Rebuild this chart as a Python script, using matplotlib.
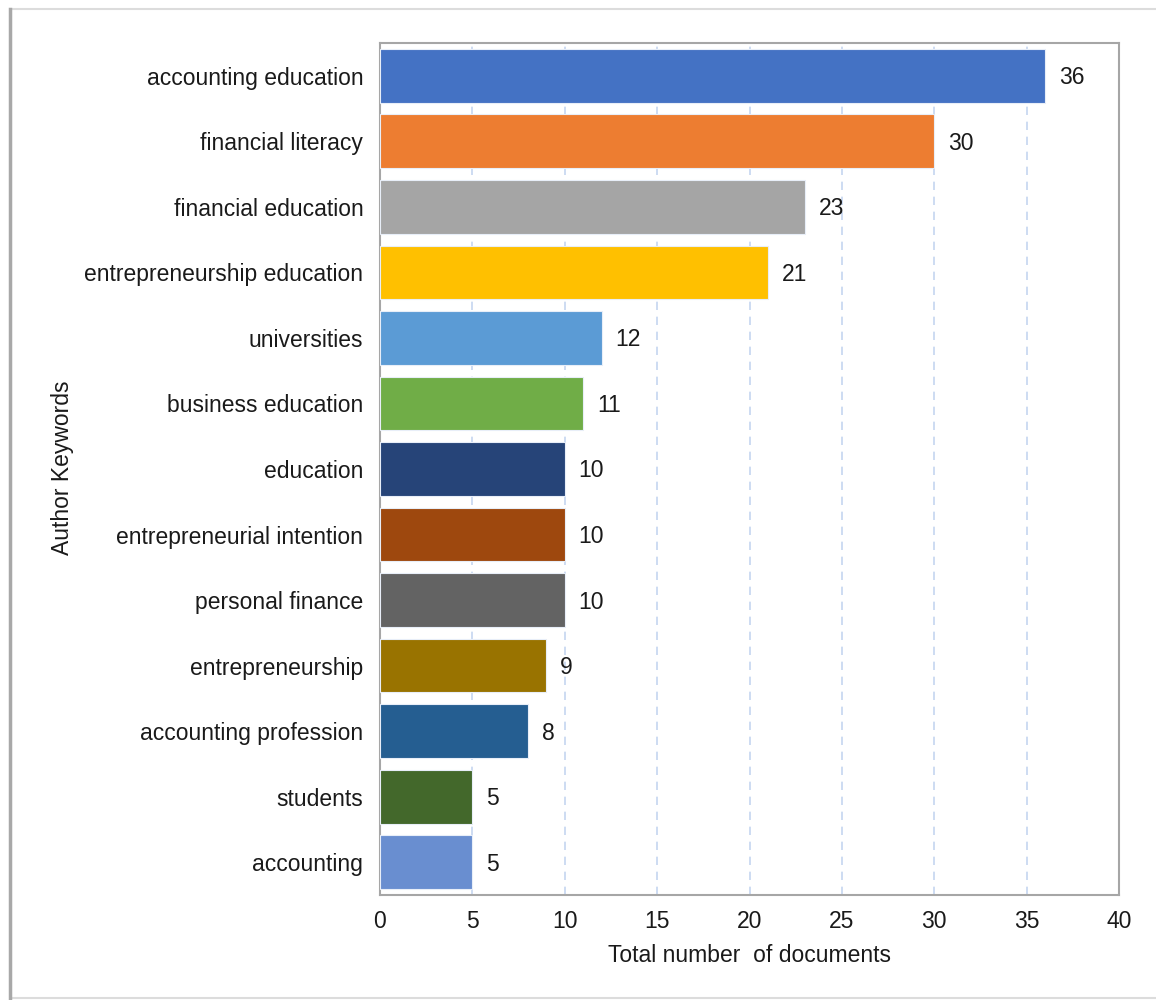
import matplotlib
matplotlib.use("Agg")
import matplotlib.pyplot as plt
from matplotlib.patches import Rectangle

keywords = ["accounting education", "financial literacy", "financial education",
            "entrepreneurship education", "universities", "business education",
            "education", "entrepreneurial intention", "personal finance",
            "entrepreneurship", "accounting profession", "students", "accounting"]
counts = [36, 30, 23, 21, 12, 11, 10, 10, 10, 9, 8, 5, 5]
colors = ["#4472C4", "#ED7D31", "#A5A5A5", "#FFC000", "#5B9BD5", "#70AD47",
          "#264478", "#9E480E", "#636363", "#997300", "#255E91", "#43682B", "#698ED0"]
xticks = [0, 5, 10, 15, 20, 25, 30, 35, 40]

plt.rcParams['font.family'] = ['Liberation Sans', 'DejaVu Sans']
FS = 16.5

W, H = 1156, 1000
fig = plt.figure(figsize=(W/100, H/100), dpi=100)
fig.patch.set_facecolor("white")

# outer frame with shadow
fig.add_artist(Rectangle((11/W, 1 - 998/H), 1.2, (998-9)/H, transform=fig.transFigure,
                         facecolor="none", edgecolor="#dcdcdc", lw=1.5))
fig.add_artist(plt.Line2D([10/W, 10/W], [1 - 998/H, 1 - 9/H], transform=fig.transFigure,
                          color="#a8a8a8", lw=2.5))

left, right, top, bottom = 380, 1119, 43, 895
ax = fig.add_axes([left/W, 1 - bottom/H, (right-left)/W, (bottom-top)/H])

y = list(range(len(keywords)))
ax.barh(y, counts, height=0.82, color=colors, edgecolor="#e8eef8", linewidth=0.8, zorder=3)
ax.set_ylim(len(keywords) - 0.5, -0.5)
ax.set_xlim(0, 40)
ax.set_xticks(xticks)
ax.set_yticks(y)
ax.set_yticklabels(keywords)
ax.tick_params(axis='both', length=0, labelsize=FS, colors="#1a1a1a")
ax.tick_params(axis='y', pad=12)
ax.tick_params(axis='x', pad=11)

for xv in xticks[1:-1]:
    ax.axvline(xv, color="#c5d5f0", lw=1.2, ls=(0, (5, 4)), zorder=1)

for s in ax.spines.values():
    s.set_color("#a6a6a6")
    s.set_linewidth(1.5)

for yi, v in zip(y, counts):
    ax.text(v + 0.75, yi + 0.03, str(v), va="center", ha="left", fontsize=FS, color="#1a1a1a")

ax.set_xlabel("Total number  of documents", fontsize=FS, color="#1a1a1a", labelpad=8)
fig.text(62/W, 1 - 468/H, "Author Keywords", rotation=90, va="center", ha="center",
         fontsize=FS, color="#1a1a1a")

fig.savefig("out.png", dpi=100)
